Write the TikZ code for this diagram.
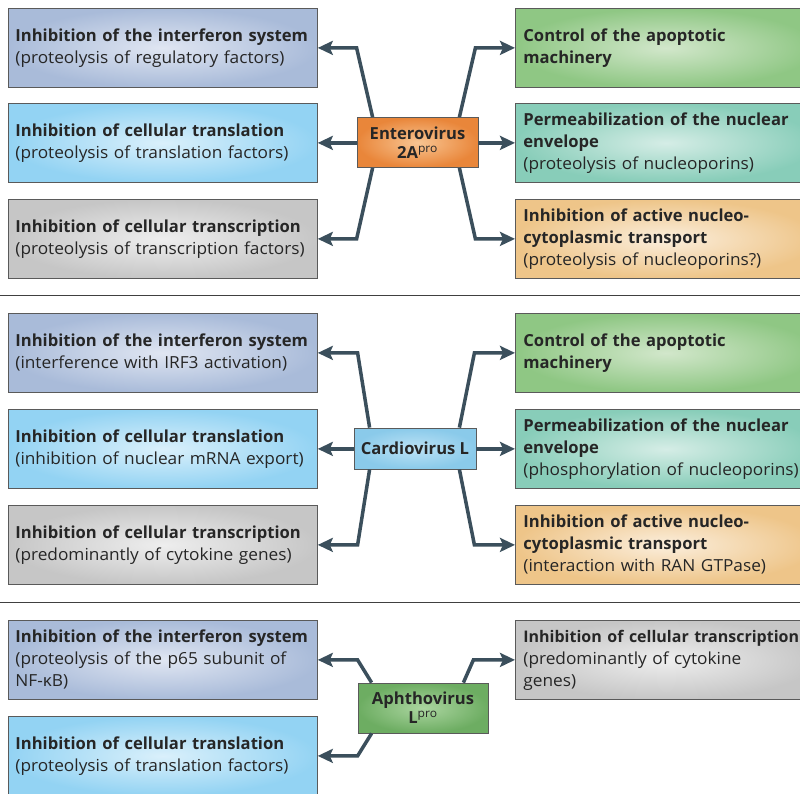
\documentclass[tikz,border=0pt]{standalone}
\usepackage{fontspec}
\setmainfont{Open Sans}[UprightFeatures={FakeStretch=1.04}]
\usetikzlibrary{arrows.meta,calc}
\hyphenpenalty=10000\relax
\definecolor{arrc}{HTML}{3B4F5C}
\definecolor{bord}{HTML}{5A5A5A}
\definecolor{ifnO}{HTML}{A9BBD9}\definecolor{ifnI}{HTML}{E0E6F2}
\definecolor{trlO}{HTML}{93D3F3}\definecolor{trlI}{HTML}{DAF0FB}
\definecolor{trcO}{HTML}{C6C6C6}\definecolor{trcI}{HTML}{EEEEEE}
\definecolor{apoO}{HTML}{8FC784}\definecolor{apoI}{HTML}{D2E7CB}
\definecolor{nucO}{HTML}{88CDB9}\definecolor{nucI}{HTML}{D5EDE6}
\definecolor{trpO}{HTML}{EEC589}\definecolor{trpI}{HTML}{FBEEDC}
\definecolor{entO}{HTML}{E9863A}\definecolor{entI}{HTML}{F8C592}
\definecolor{carO}{HTML}{8ACAEA}\definecolor{carI}{HTML}{BCE2F5}
\definecolor{aphO}{HTML}{6DAD62}\definecolor{aphI}{HTML}{ABD5A0}
\definecolor{txt}{HTML}{262626}
\tikzset{
  fbox/.style={draw=bord, line width=0.8pt, anchor=north west, minimum height=79pt,
    align=left, text=txt, font=\fontsize{16.6}{22}\selectfont, shading=radial},
  lbox/.style={fbox, inner xsep=7pt, text width=295pt},
  rbox/.style={fbox, inner xsep=8pt, text width=285pt},
  ifn/.style={inner color=ifnI, outer color=ifnO},
  trl/.style={inner color=trlI, outer color=trlO},
  trc/.style={inner color=trcI, outer color=trcO},
  apo/.style={inner color=apoI, outer color=apoO},
  nuc/.style={inner color=nucI, outer color=nucO},
  trp/.style={inner color=trpI, outer color=trpO},
  cbox/.style={draw=bord, line width=0.8pt, align=center, text=txt,
    font=\fontsize{16.6}{19}\selectfont\bfseries, shading=radial, inner sep=2pt},
  arr/.style={draw=arrc, line width=3.5pt, -{Stealth[length=15pt,width=14pt,inset=3pt]}},
  sep/.style={draw=black!75, line width=0.9pt}
}
\newcommand{\pr}{\textsuperscript{\mdseries pro}}
\begin{document}
\begin{tikzpicture}[x=1pt,y=-1pt]
\clip (0,0) rectangle (800,794);
\fill[white] (0,0) rectangle (800,794);
% separators
\coordinate (s1a) at (0,295); \coordinate (s1b) at (800,295);
\coordinate (s2a) at (0,602); \coordinate (s2b) at (800,602);
\draw[sep] (s1a) -- (s1b);
\draw[sep] (s2a) -- (s2b);

% ---------- Panel 1
\node[lbox,ifn] (a1) at (8,8) {\textbf{Inhibition of the interferon system}\\(proteolysis of regulatory factors)};
\node[lbox,trl] (a2) at (8,103) {\textbf{Inhibition of cellular translation}\\(proteolysis of translation factors)};
\node[lbox,trc] (a3) at (8,199) {\textbf{Inhibition of cellular transcription}\\(proteolysis of transcription factors)};
\node[rbox,apo] (b1) at (515,8) {\textbf{Control of the apoptotic}\\\textbf{machinery}};
\node[rbox,nuc] (b2) at (515,103) {\textbf{Permeabilization of the nuclear}\\\textbf{envelope}\\(proteolysis of nucleoporins)};
\node[rbox,trp] (b3) at (515,199) {\textbf{Inhibition of active nucleo-}\\\textbf{cytoplasmic transport}\\(proteolysis of nucleoporins?)};
\node[cbox, inner color=entI, outer color=entO, minimum width=121pt, minimum height=50pt] (ent) at (417.5,142.5) {Enterovirus\\2A\pr};
\draw[arr] ([xshift=16pt]ent.north west) -- (ent.west |- a1.east) -- (a1.east);
\draw[arr] (ent.west |- a2.east) -- (a2.east);
\draw[arr] ([xshift=16pt]ent.south west) -- (ent.west |- a3.east) -- (a3.east);
\draw[arr] ([xshift=-19pt]ent.north east) -- ($(ent.east |- b1.west)+(-3,0)$) -- (b1.west);
\draw[arr] (ent.east |- b2.west) -- (b2.west);
\draw[arr] ([xshift=-19pt]ent.south east) -- ($(ent.east |- b3.west)+(-3,0)$) -- (b3.west);

% ---------- Panel 2
\node[lbox,ifn] (c1) at (8,313) {\textbf{Inhibition of the interferon system}\\(interference with IRF3 activation)};
\node[lbox,trl] (c2) at (8,409) {\textbf{Inhibition of cellular translation}\\(inhibition of nuclear mRNA export)};
\node[lbox,trc] (c3) at (8,505) {\textbf{Inhibition of cellular transcription}\\(predominantly of cytokine genes)};
\node[rbox,apo] (d1) at (515,313) {\textbf{Control of the apoptotic}\\\textbf{machinery}};
\node[rbox,nuc] (d2) at (515,409) {\textbf{Permeabilization of the nuclear}\\\textbf{envelope}\\(phosphorylation of nucleoporins)};
\node[rbox,trp] (d3) at (515,505) {\textbf{Inhibition of active nucleo-}\\\textbf{cytoplasmic transport}\\(interaction with RAN GTPase)};
\node[cbox, inner color=carI, outer color=carO, minimum width=122pt, minimum height=41pt] (car) at (415,448.5) {Cardiovirus L};
\draw[arr] ([xshift=16pt]car.north west) -- ($(car.west |- c1.east)+(4,0)$) -- (c1.east);
\draw[arr] (car.west |- c2.east) -- (c2.east);
\draw[arr] ([xshift=16pt]car.south west) -- ($(car.west |- c3.east)+(4,0)$) -- (c3.east);
\draw[arr] ([xshift=-17pt]car.north east) -- ($(car.east |- d1.west)+(-2,0)$) -- (d1.west);
\draw[arr] (car.east |- d2.west) -- (d2.west);
\draw[arr] ([xshift=-17pt]car.south east) -- ($(car.east |- d3.west)+(-2,0)$) -- (d3.west);

% ---------- Panel 3
\node[lbox,ifn] (e1) at (8,620) {\textbf{Inhibition of the interferon system}\\(proteolysis of the p65 subunit of\\NF-κB)};
\node[lbox,trl] (e2) at (8,716) {\textbf{Inhibition of cellular translation}\\(proteolysis of translation factors)};
\node[rbox,trc] (f1) at (515,620) {{\fontsize{16}{22}\selectfont\textbf{Inhibition of cellular transcription}}\\(predominantly of cytokine\\genes)};
\node[cbox, inner color=aphI, outer color=aphO, minimum width=130pt, minimum height=50pt] (aph) at (423,708) {Aphthovirus\\L\pr};
\draw[arr] ([xshift=14pt]aph.north west) -- (aph.west |- e1.east) -- (e1.east);
\draw[arr] ([xshift=14pt]aph.south west) -- (aph.west |- e2.east) -- (e2.east);
\draw[arr] ([xshift=-25pt]aph.north east) -- ($(aph.east |- f1.west)+(-15,0)$) -- (f1.west);
\end{tikzpicture}
\end{document}
